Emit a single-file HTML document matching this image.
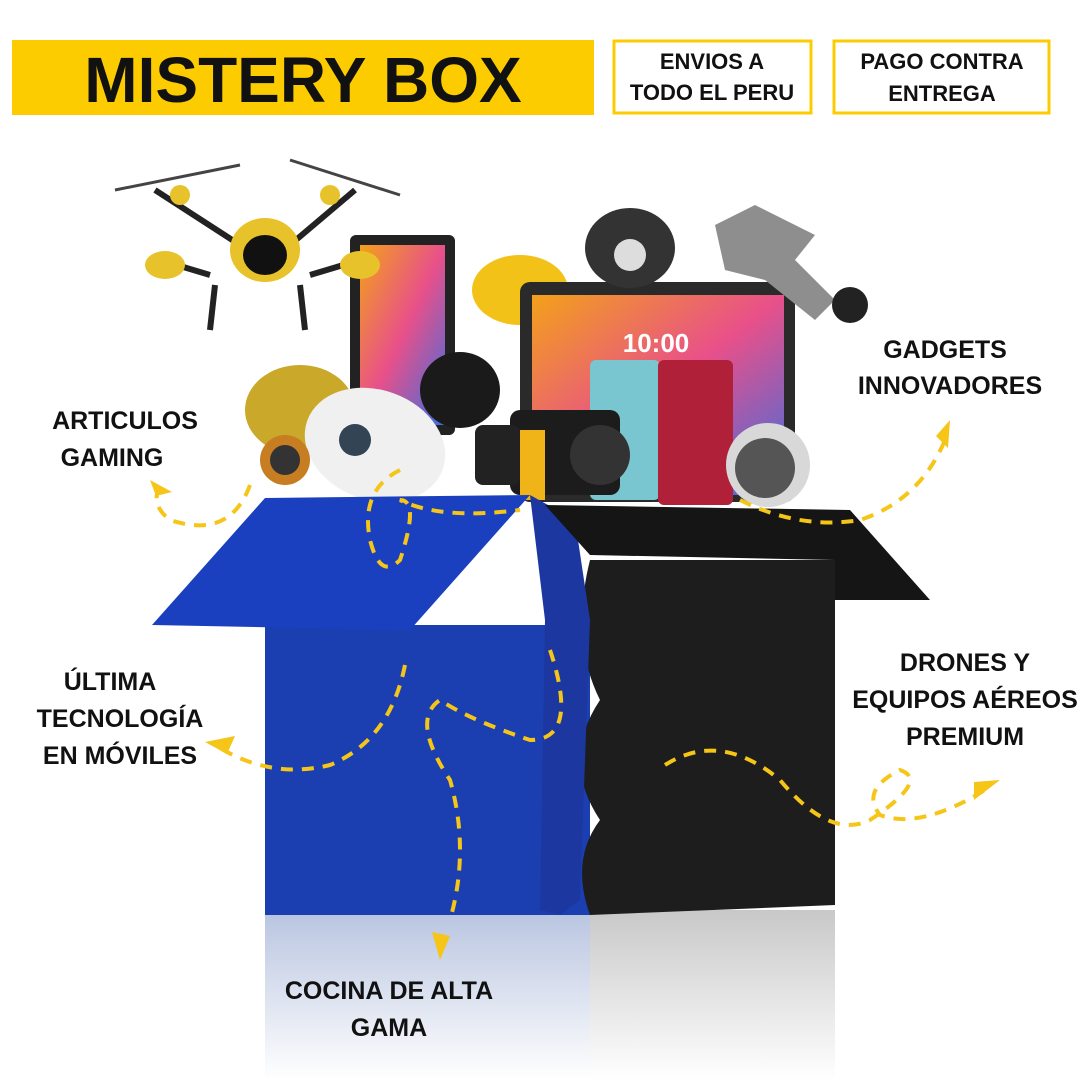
<!DOCTYPE html>
<html><head><meta charset="utf-8"><style>
body{margin:0;width:1080px;height:1080px;background:#fff;overflow:hidden;font-family:"Liberation Sans",sans-serif}
svg{position:absolute;left:0;top:0}
text{font-family:"Liberation Sans",sans-serif;font-weight:bold}
</style></head><body>
<svg width="1080" height="1080" viewBox="0 0 1080 1080">
<defs>
<linearGradient id="refl" x1="0" y1="0" x2="0" y2="1"><stop offset="0" stop-color="#b8c4e0"/><stop offset="1" stop-color="#ffffff"/></linearGradient>
<linearGradient id="refl2" x1="0" y1="0" x2="0" y2="1"><stop offset="0" stop-color="#c8c8c8"/><stop offset="1" stop-color="#ffffff"/></linearGradient>
<linearGradient id="scr" x1="0" y1="0" x2="1" y2="1"><stop offset="0" stop-color="#f3a11a"/><stop offset=".5" stop-color="#e8508a"/><stop offset="1" stop-color="#3a6ee0"/></linearGradient>
</defs>
<!-- header -->
<rect x="12" y="40" width="582" height="75" fill="#fccc00"/>
<text x="303" y="102" font-size="64" text-anchor="middle" fill="#111">MISTERY BOX</text>
<rect x="614" y="41" width="197" height="72" fill="#fff" stroke="#fccc00" stroke-width="3"/>
<text x="712" y="69" font-size="22" text-anchor="middle" fill="#111">ENVIOS A</text>
<text x="712" y="100" font-size="22" text-anchor="middle" fill="#111">TODO EL PERU</text>
<rect x="834" y="41" width="215" height="72" fill="#fff" stroke="#fccc00" stroke-width="3"/>
<text x="942" y="69" font-size="22" text-anchor="middle" fill="#111">PAGO CONTRA</text>
<text x="942" y="101" font-size="22" text-anchor="middle" fill="#111">ENTREGA</text>

<!-- reflection -->
<rect x="265" y="910" width="325" height="170" fill="url(#refl)"/>
<rect x="590" y="910" width="245" height="170" fill="url(#refl2)"/>

<!-- products -->
<rect x="350" y="235" width="105" height="200" rx="6" fill="#222"/>
<rect x="360" y="245" width="85" height="180" fill="url(#scr)"/>
<ellipse cx="520" cy="290" rx="48" ry="35" fill="#f2c218"/>
<rect x="520" y="282" width="275" height="220" rx="10" fill="#2a2a2a"/>
<rect x="532" y="295" width="252" height="200" fill="url(#scr)"/>
<text x="656" y="352" font-size="26" fill="#fff" text-anchor="middle" font-weight="normal">10:00</text>
<ellipse cx="630" cy="248" rx="45" ry="40" fill="#333"/>
<circle cx="630" cy="255" r="16" fill="#ddd"/>
<path d="M715 225 l40 -20 l60 30 l-20 25 l40 40 l-20 20 l-50 -40 l-40 -10z" fill="#8e8e8e"/>
<circle cx="850" cy="305" r="18" fill="#222"/>
<ellipse cx="300" cy="410" rx="55" ry="45" fill="#c9a82a"/>
<ellipse cx="460" cy="390" rx="40" ry="38" fill="#1a1a1a"/>
<ellipse cx="375" cy="445" rx="72" ry="55" fill="#f0f0f0" transform="rotate(20 375 445)"/>
<circle cx="355" cy="440" r="16" fill="#345"/>
<circle cx="285" cy="460" r="25" fill="#c77d22"/>
<circle cx="285" cy="460" r="15" fill="#333"/>
<rect x="590" y="360" width="70" height="140" rx="6" fill="#7ac6d0"/>
<rect x="658" y="360" width="75" height="145" rx="6" fill="#b02038"/>
<rect x="510" y="410" width="110" height="85" rx="10" fill="#1c1c1c"/>
<circle cx="600" cy="455" r="30" fill="#333"/>
<rect x="475" y="425" width="45" height="60" rx="8" fill="#222"/>
<rect x="520" y="430" width="25" height="70" fill="#f0b418"/>
<circle cx="768" cy="465" r="42" fill="#d8d8d8"/>
<circle cx="765" cy="468" r="30" fill="#555"/>
<!-- drone -->
<g stroke="#222" stroke-width="6" fill="none">
<line x1="155" y1="190" x2="240" y2="245"/><line x1="355" y1="190" x2="290" y2="245"/>
<line x1="210" y1="275" x2="160" y2="260"/><line x1="310" y1="275" x2="360" y2="260"/>
<line x1="215" y1="285" x2="210" y2="330"/><line x1="300" y1="285" x2="305" y2="330"/>
</g>
<line x1="115" y1="190" x2="240" y2="165" stroke="#444" stroke-width="3"/>
<line x1="290" y1="160" x2="400" y2="195" stroke="#444" stroke-width="3"/>
<ellipse cx="265" cy="250" rx="35" ry="32" fill="#e8c22a"/>
<ellipse cx="265" cy="255" rx="22" ry="20" fill="#111"/>
<ellipse cx="165" cy="265" rx="20" ry="14" fill="#e8c22a"/>
<ellipse cx="360" cy="265" rx="20" ry="14" fill="#e8c22a"/>
<circle cx="180" cy="195" r="10" fill="#e8c22a"/><circle cx="330" cy="195" r="10" fill="#e8c22a"/>

<!-- box -->
<rect x="265" y="625" width="325" height="290" fill="#1b3fb0"/>
<path d="M590 560 L835 560 L835 905 L590 915 Q570 860 600 820 Q560 760 600 700 Q570 640 590 560z" fill="#1d1d1d"/>
<path d="M152 625 L265 498 L530 495 L410 630z" fill="#1a40c0"/>
<path d="M530 495 L575 520 L590 620 L580 900 L560 915 L540 910 L545 620z" fill="#1c38a0"/>
<path d="M545 505 L850 510 L930 600 L835 600 L835 560 L590 555z" fill="#151515"/>

<!-- dashed arrows -->
<g stroke="#f5c518" stroke-width="4" fill="none" stroke-dasharray="12 9">
<path d="M250 485 Q230 540 170 520 Q150 505 160 485"/>
<path d="M400 470 Q360 490 370 540 Q380 580 400 560 Q420 500 400 500 Q440 520 520 510"/>
<path d="M740 500 Q800 530 860 520 Q920 500 945 440"/>
<path d="M405 665 Q390 740 330 765 Q270 780 215 745"/>
<path d="M550 650 Q580 740 530 740 Q470 720 440 700 Q410 720 450 780 Q470 850 450 920"/>
<path d="M665 765 Q720 730 780 780 Q830 840 870 820 Q930 780 900 770 Q860 790 880 815 Q920 830 985 790"/>
</g>
<g fill="#f5c518">
<path d="M150 480 l22 12 l-16 4z"/>
<path d="M950 420 l-2 28 l-12 -12z"/>
<path d="M205 742 l30 -6 l-8 18z"/>
<path d="M440 960 l-8 -28 l18 4z"/>
<path d="M1000 780 l-26 20 l0 -18z"/>
</g>

<!-- labels -->
<g font-size="25" fill="#111" text-anchor="middle">
<text x="125" y="429">ARTICULOS</text><text x="112" y="466">GAMING</text>
<text x="945" y="358">GADGETS</text><text x="950" y="394">INNOVADORES</text>
<text x="110" y="690">ÚLTIMA</text><text x="120" y="727">TECNOLOGÍA</text><text x="120" y="764">EN MÓVILES</text>
<text x="965" y="671">DRONES Y</text><text x="965" y="708">EQUIPOS AÉREOS</text><text x="965" y="745">PREMIUM</text>
<text x="389" y="999">COCINA DE ALTA</text><text x="389" y="1036">GAMA</text>
</g>
</svg>
</body></html>
